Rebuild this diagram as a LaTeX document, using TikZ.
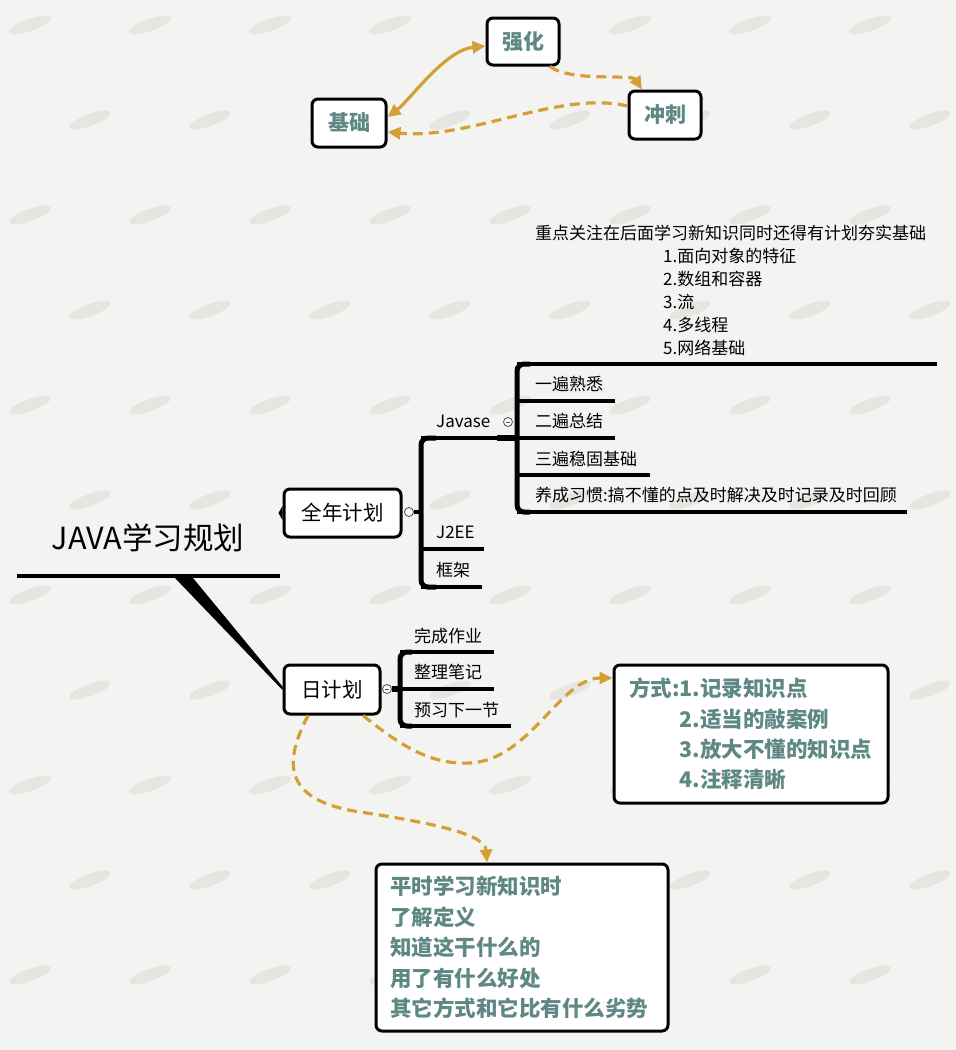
\documentclass[tikz,border=0pt]{standalone}
\usepackage{fontspec}
\setmainfont{Noto Sans CJK SC}
\usetikzlibrary{arrows.meta}
\definecolor{gold}{HTML}{D4A035}
\definecolor{calltext}{HTML}{5E8884}
\definecolor{bgc}{HTML}{F3F4F2}
\definecolor{feather}{HTML}{E5E6E1}
\tikzset{
  >={Triangle[length=13pt,width=12pt]},
  box/.style={draw=black,line width=3pt,rounded corners=6pt,fill=white,inner sep=0pt},
  tbox/.style={box,font=\fontsize{21}{25}\selectfont\bfseries,text=calltext},
  mbox/.style={box,font=\fontsize{20.5}{24}\selectfont},
  lbl/.style={anchor=west,inner sep=0pt,font=\fontsize{17}{20}\selectfont},
  brl/.style={line width=3.4pt},
  brv/.style={line width=5pt,rounded corners=7pt},
  joint/.style={line width=6pt},
  goldsolid/.style={draw=gold,line width=3.2pt},
  golddash/.style={draw=gold,line width=3.2pt,dash pattern=on 10pt off 6pt},
  knob/.style={circle,draw=black!70,fill=white,line width=0.8pt,minimum size=9pt,inner sep=0pt}
}
\begin{document}
\begin{tikzpicture}[x=1pt,y=-1pt]
\fill[bgc] (0,0) rectangle (956,1050);
\useasboundingbox (0,0) rectangle (956,1050);
% background texture
\foreach \i in {0,...,8} {
  \foreach \j in {0,...,11} {
    \pgfmathsetmacro\xx{\i*120+mod(\j,2)*60+30}
    \pgfmathsetmacro\yy{\j*95+25}
    \fill[feather,rotate around={20:(\xx,\yy)}] (\xx,\yy) ellipse [x radius=22, y radius=6];
  }
}

% ---------- top cycle ----------
\node[tbox,minimum width=72pt,minimum height=47pt] (qh) at (523,41.5) {强化};
\node[tbox,minimum width=74pt,minimum height=48pt] (jc) at (349,123) {基础};
\node[tbox,minimum width=72pt,minimum height=48pt] (cc) at (665,115) {冲刺};
\draw[goldsolid,<->] ([yshift=6pt]jc.east) .. controls (410,100) and (445,50) .. ([yshift=-4.5pt]qh.west);
\draw[golddash,->] ([xshift=27pt]qh.south) .. controls (570,82) and (632,74) .. ([xshift=-23pt]cc.north);
\draw[golddash,->] ([yshift=9pt]cc.west) .. controls (560,90) and (470,140) .. ([yshift=-9pt]jc.east);

% ---------- root ----------
\node[inner sep=0pt,font=\fontsize{30.5}{35}\selectfont] (root) at (148,538) {JAVA学习规划};
\coordinate (rl) at (17,576);
\coordinate (rr) at (280,576);
\draw[line width=4.2pt] (rl) -- (rr);
\coordinate (w1) at (175,578);
\coordinate (w2) at (193,578);

% ---------- 全年计划 ----------
\node[mbox,minimum width=117pt,minimum height=48pt] (qn) at (342.5,513) {全年计划};
\fill ([yshift=7pt]qn.west) -- ([xshift=-4pt]qn.west) -- ([yshift=-7pt]qn.west) -- cycle;
\node[knob] (k1) at (409,512) {};
\coordinate (b1) at (421,512);
\draw[brl] (k1.east) -- (b1);
\coordinate (b1t) at (421,438);
\coordinate (b1m) at (421,549);
\coordinate (b1b) at (421,587);
\draw[brv] (436,438) -- (b1t) -- (b1b) -- (436,587);
\coordinate (e1) at (500,438);
\coordinate (e2) at (484,549);
\coordinate (e3) at (482,587);
\draw[brl] (b1t) -- (e1);
\draw[brl] (b1m) -- (e2);
\draw[brl] (b1b) -- (e3);
\node[lbl] (javase) at (436,421) {Javase};
\node[lbl] (j2ee) at (436,532) {J2EE};
\node[lbl] (kj) at (436,570) {框架};
\node[knob] (k2) at (508,422) {};
\draw[line width=0.7pt,black!70] ([xshift=-2.4pt]k2.center) -- ([xshift=2.4pt]k2.center);

% Javase sub-branches
\coordinate (s0) at (517,364);
\coordinate (s1) at (517,401);
\coordinate (s2) at (517,438);
\coordinate (s3) at (517,475);
\coordinate (s4) at (517,512);
\draw[joint] (497,438) -- (s2);
\draw[brv] (530,364) -- (s0) -- (s4) -- (530,512);
\coordinate (t0) at (937,364);
\coordinate (t1) at (615,401);
\coordinate (t2) at (615,438);
\coordinate (t3) at (650,475);
\coordinate (t4) at (907,512);
\draw[brl] (s0) -- (t0);
\draw[brl] (s1) -- (t1);
\draw[brl] (s2) -- (t2);
\draw[brl] (s3) -- (t3);
\draw[brl] (s4) -- (t4);
\node[lbl] (a1) at (535,384) {一遍熟悉};
\node[lbl] (a2) at (535,421) {二遍总结};
\node[lbl] (a3) at (535,459) {三遍稳固基础};
\node[lbl] (a4) at (535,495) {养成习惯:搞不懂的点及时解决及时记录及时回顾};
\node[lbl] (n0) at (535,233) {重点关注在后面学习新知识同时还得有计划夯实基础};
\node[lbl] (n1) at (663,256) {1.面向对象的特征};
\node[lbl] (n2) at (663,279) {2.数组和容器};
\node[lbl] (n3) at (663,302) {3.流};
\node[lbl] (n4) at (663,325) {4.多线程};
\node[lbl] (n5) at (663,348) {5.网络基础};

% ---------- 日计划 ----------
\node[mbox,minimum width=96pt,minimum height=49pt] (rj) at (332,689.5) {日计划};
\fill (w1) -- (w2) -- ([yshift=3pt]rj.west) -- ([yshift=-0.5pt]rj.west) -- cycle;
\node[knob] (k3) at (387,689) {};
\draw[line width=0.7pt,black!70] ([xshift=-2.4pt]k3.center) -- ([xshift=2.4pt]k3.center);
\coordinate (d0) at (400,652);
\coordinate (d1) at (400,689);
\coordinate (d2) at (400,726);
\draw[joint] (k3.east) -- (d1);
\draw[brv] (412,652) -- (d0) -- (d2) -- (412,726);
\coordinate (f0) at (494,652);
\coordinate (f1) at (494,689);
\coordinate (f2) at (511,726);
\draw[brl] (d0) -- (f0);
\draw[brl] (d1) -- (f1);
\draw[brl] (d2) -- (f2);
\node[lbl] (c1) at (414,636) {完成作业};
\node[lbl] (c2) at (414,672) {整理笔记};
\node[lbl] (c3) at (414,710) {预习下一节};

% ---------- callouts ----------
\node[tbox,minimum width=274pt,minimum height=138pt,text width=244pt,align=left,inner xsep=15pt,
      font=\fontsize{21.5}{30.3}\selectfont\bfseries] (fs) at (751,734)
  {方式:1.记录知识点\\\phantom{方式:}2.适当的敲案例\\\phantom{方式:}3.放大不懂的知识点\\\phantom{方式:}4.注释清晰};
\node[tbox,minimum width=292pt,minimum height=167pt,text width=264pt,align=left,inner xsep=14pt,
      font=\fontsize{21.5}{30.5}\selectfont\bfseries] (ps) at (522,947.5)
  {平时学习新知识时\\了解定义\\知道这干什么的\\用了有什么好处\\其它方式和它比有什么劣势};

\draw[golddash,->] ([xshift=31pt]rj.south) .. controls (400,745) and (430,765) .. (470,763)
  .. controls (530,760) and (560,678) .. ([yshift=56pt]fs.west);
\draw[golddash,->] ([xshift=-24pt]rj.south) .. controls (285,760) and (280,800) .. (360,812)
  .. controls (440,824) and (485,835) .. ([xshift=-35pt]ps.north);
\end{tikzpicture}
\end{document}
